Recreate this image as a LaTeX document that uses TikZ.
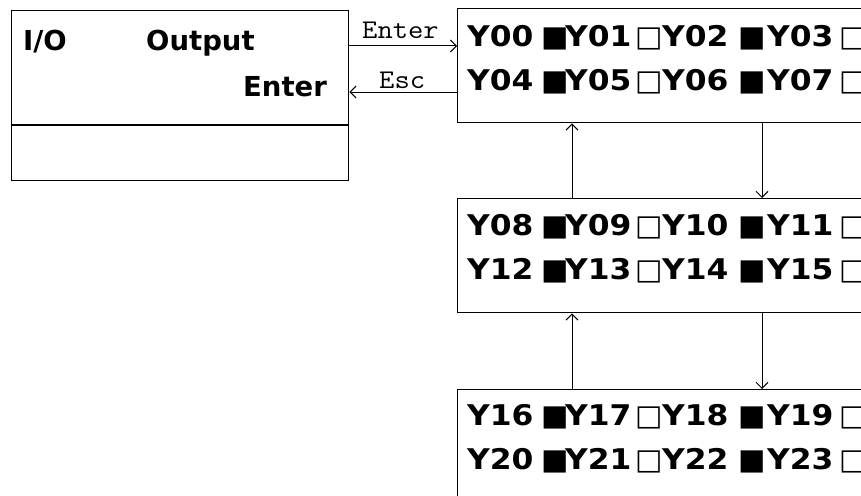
\documentclass[tikz,border=0pt]{standalone}
\usepackage{fontspec}
\usepackage{graphicx}
\setmainfont{DejaVu Sans}
\newfontfamily\rowfont{DejaVu Sans}[FakeStretch=1.1]
\newfontfamily\symfont{DejaVu Sans}
\usetikzlibrary{arrows.meta}
\tikzset{
  box/.style={draw=black, line width=1.4pt, rectangle, inner sep=0pt, anchor=north west},
  lbl/.style={anchor=base west, inner sep=0pt, font=\fontsize{27.5}{30}\selectfont\bfseries},
  cell/.style={anchor=base west, inner sep=0pt, font=\rowfont\fontsize{28.5}{30}\selectfont\bfseries},
  sqr/.style={anchor=base west, inner sep=0pt, font=\symfont\fontsize{29}{30}\selectfont},
  keylbl/.style={anchor=base west, inner sep=0pt, font=\ttfamily\fontsize{27}{29}\selectfont},
  arr/.style={-{Straight Barb[length=6pt,width=12pt]}, line width=1pt},
}
\newcommand\yrow[5]{%
  \node[cell] at (467,#1) {#2};
  \node[sqr]  at (541,#1) {■};
  \node[cell] at (565,#1) {#3};
  \node[sqr]  at (635,#1) {□};
  \node[cell] at (662,#1) {#4};
  \node[sqr]  at (738,#1) {■};
  \node[cell] at (767,#1) {#5};
  \node[sqr]  at (839,#1) {□};
}
\begin{document}
\begin{tikzpicture}[x=1pt,y=-1pt]
\clip (0,0) rectangle (861,495);
\fill[white] (0,0) rectangle (861,495);
% left box
\node[box, minimum width=337pt, minimum height=170pt] (io) at (11,10) {};
\coordinate (dv) at (0,125);
\draw[line width=1.4pt] (io.west |- dv) -- (io.east |- dv);
\node[lbl] (tio) at (23,51) {I/O};
\node[lbl] (tout) at (146,51) {Output};
\node[lbl] (tent) at (243,96) {Enter};
% right boxes
\node[box, minimum width=430pt, minimum height=114pt] (b1) at (457,8) {};
\node[box, minimum width=430pt, minimum height=114pt] (b2) at (457,198) {};
\node[box, minimum width=430pt, minimum height=150pt] (b3) at (457,389) {};
\yrow{46}{Y00}{Y01}{Y02}{Y03}
\yrow{90}{Y04}{Y05}{Y06}{Y07}
\yrow{235}{Y08}{Y09}{Y10}{Y11}
\yrow{279}{Y12}{Y13}{Y14}{Y15}
\yrow{425}{Y16}{Y17}{Y18}{Y19}
\yrow{469}{Y20}{Y21}{Y22}{Y23}
% connectors
\coordinate (ya) at (0,46);
\coordinate (yb) at (0,92);
\coordinate (xa) at (572,0);
\coordinate (xb) at (762,0);
\draw[arr] (io.east |- ya) -- (b1.west |- ya);
\draw[arr] (b1.west |- yb) -- (io.east |- yb);
\node[keylbl] (kenter) at (362,38) {\scalebox{1.1}[1]{Enter}};
\node[keylbl] (kesc) at (379,88) {\scalebox{1.1}[1]{Esc}};
\draw[arr] (b1.south -| xb) -- (b2.north -| xb);
\draw[arr] (b2.north -| xa) -- (b1.south -| xa);
\draw[arr] (b2.south -| xb) -- (b3.north -| xb);
\draw[arr] (b3.north -| xa) -- (b2.south -| xa);
\end{tikzpicture}
\end{document}
